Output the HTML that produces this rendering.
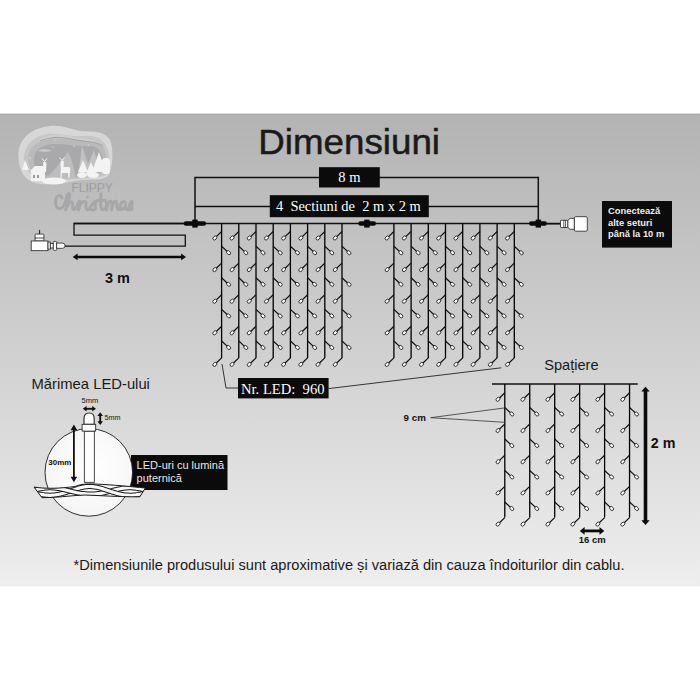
<!DOCTYPE html>
<html><head><meta charset="utf-8"><style>
html,body{margin:0;padding:0;background:#fff;width:700px;height:700px;overflow:hidden}
#band{position:absolute;left:0;top:114px;width:700px;height:472px;background:linear-gradient(to bottom,#b4b4b6 0%,#d0d0d1 50%,#ececec 100%)}
svg{position:absolute;left:0;top:0}
.led{fill:#fff;stroke:#111;stroke-width:0.8}
.sans{font-family:"Liberation Sans",sans-serif}
.serif{font-family:"Liberation Serif",serif}
</style></head><body>
<svg width="700" height="700" viewBox="0 0 700 700">
<defs><linearGradient id="bg" x1="0" y1="0" x2="0" y2="1"><stop offset="0" stop-color="#b3b3b4"/><stop offset="0.5" stop-color="#d0d0d0"/><stop offset="1" stop-color="#eeeeee"/></linearGradient></defs>
<rect x="0" y="113.5" width="700" height="473" fill="url(#bg)"/>
<rect x="0" y="114" width="700" height="1" fill="#aaaaab" opacity="0.7"/>

<g id="logo">
<path d="M18.5 158 C17 140 30 128 50 126 C62 125 70 129 80 131 C92 132 104 130 110 140 C114 150 113 168 108 176 C103 181 90 179 80 180 C65 183 48 186 35 183 C24 180 19 170 18.5 158Z" fill="#d7d7d8"/>
<path d="M24 160 C23 147 33 136 48 134 C60 133 70 137 82 136 C95 135 104 138 108 150 C111 162 109 171 105 176 C95 178 70 180 50 180 C35 180 25 172 24 160Z" fill="#c6c6c7"/>
<path d="M28 156 C30 146 38 140 52 139 C65 138 75 140 86 139 C96 139 104 143 106 155 C107 165 104 173 98 176 C80 178 60 179 45 178 C33 176 28 168 28 156Z" fill="#bababb"/>
<path d="M34 160 C34 150 42 144 55 144 C68 144 78 147 92 146 C100 148 104 156 103 165 C102 172 95 176 80 177 C62 178 46 177 38 172 C35 168 34 164 34 160Z" fill="#a9a9ab"/>
<path d="M40 139 C50 133 62 134 74 137 C86 140 95 137 103 146 C95 141 86 142 74 139.5 C62 137 52 136 40 141Z" fill="#cfcfd0"/><path d="M40 141 C52 136 62 137 74 139.5 C86 142 95 141 103 146" fill="none" stroke="#9d9d9f" stroke-width="0.9"/>
<path d="M38 151 C42 148 48 149 52 151 C48 152 42 152 38 151Z" fill="#c8c8c9"/>
<path d="M46 178 C55 170 62 160 68 152 C72 160 74 168 76 178Z" fill="#bdbdbe"/>
<path d="M82 146 L88 164 L94 150 L100 172 L78 176Z" fill="#c2c2c3"/>
<g fill="#f3f3f3">
<path d="M22 170 L25 160 L29 170Z"/>
<rect x="31" y="170" width="14" height="11"/>
<path d="M30 171 L35 166 H44 L46 171Z"/>
<path d="M43 163 Q44.5 160 46.5 163 L46 172 H43.5Z"/><path d="M42 158.5 L44.5 161.5 L47 158.5" fill="none" stroke="#f3f3f3" stroke-width="1"/>
<path d="M60.5 162 Q62 159.5 64 162 L63.5 167 H69 Q71 168 70 172 L69.5 178 H68.5 L68 173 H62 L61.5 178 H60.5 L60.8 170Z"/><path d="M59.5 157.5 L62 160.5 L64.5 157.5" fill="none" stroke="#f3f3f3" stroke-width="1"/>
<path d="M78 172 L83 160 L88 172Z"/>
<path d="M92 172 L99 152 L106 172Z"/>
<path d="M86 174 L91 162 L96 174Z"/>
<ellipse cx="54" cy="181" rx="12" ry="3.5"/>
<ellipse cx="82" cy="175" rx="5" ry="3"/>
<ellipse cx="93" cy="175" rx="6" ry="3"/>
<rect x="102" y="158" width="8" height="16" rx="3"/>
</g>
<g fill="#9a9a9c"><rect x="33" y="175" width="2" height="3"/><rect x="37" y="175" width="2" height="3"/></g>
<g fill="#e6e6e6"><circle cx="53" cy="147" r="0.6"/><circle cx="55" cy="140" r="0.6"/><circle cx="74" cy="146" r="0.7"/><circle cx="89" cy="145" r="0.6"/><circle cx="30" cy="158" r="0.7"/></g>
</g>
<text x="71.4" y="191.5" class="sans" font-size="12" fill="#858587" stroke="#bababb" stroke-width="0.45" paint-order="fill stroke" textLength="41.5" lengthAdjust="spacingAndGlyphs">FLIPPY</text>
<path d="M62 198 C60 194 56 195 55.5 201 C55 207 58 210 62 208 C64 206 66 200 67 196 C68 192.5 70.5 193 69.5 197 C68.5 201 66.5 206 65.5 210 C67 205 70 201 72 202 C73.5 203 72 207 73 209 C74 210.5 75.5 209 76.5 207 C77.5 204 78.5 201.5 79.5 201 C79.5 203 78.5 206 78.5 210 C79.5 205 81.5 201.5 84 201.5 M86 202 C86 205 85 208 87 209.5 C88.5 210.5 89.5 208.5 90.5 207 C92 205 93.5 202 95 201.5 C97.5 202 93.5 205 95.5 207.5 C96.5 209.5 93 210.5 91 209.5 M101 194 C101 200 100 206 101.5 209 C102.5 210.5 104 209.5 105.5 207.5 M97.5 200.5 H105 M106.5 202 C106.5 205 106.5 208 106.5 210 C107.5 205 108.5 201 110.5 201 C112.5 202 111.5 207 111.5 210 C112.5 205 113.5 201 115.5 201 C117.5 202 116.5 207 117.5 209 C118.5 210.5 119.5 209 120.5 207 M125.5 202.5 C122.5 200 120 204 120 207 C120 210.5 123 210.5 125.5 206 C125.5 204 125 208 126.5 209.5 C127.5 210.5 128.5 209 129 207.5 C129.5 205 130.5 202 131.5 201.5 C134 202 130 205 132 207.5 C133 209.5 130 210.5 128 209.5" fill="none" stroke="#a7a7a9" stroke-width="2.9" stroke-linecap="round" stroke-linejoin="round"/>
<circle cx="87.5" cy="197" r="1.2" fill="#a5a5a7"/>

<text x="258.3" y="153.6" class="sans" font-size="35" fill="#1a1a1a" stroke="#1a1a1a" stroke-width="0.5" textLength="181.7" lengthAdjust="spacingAndGlyphs">Dimensiuni</text>
<path d="M195 223.5V177.5H538.3V223.5 M195 206.5H538.3" stroke="#111" stroke-width="1.5" fill="none"/>
<path d="M74 223.5H560" stroke="#111" stroke-width="1.6" fill="none"/>
<path d="M195 223.5H74V235.2H185.3V246.2H65" stroke="#111" stroke-width="1.3" fill="none"/>
<path d="M76 256.9H183" stroke="#0a0a0a" stroke-width="2.5" fill="none"/><path d="M72.7 256.9L77.6 253.6V260.2Z M186 256.9L181.1 253.6V260.2Z" fill="#0a0a0a"/>
<text x="117.4" y="282.7" class="sans" font-size="14.5" font-weight="bold" fill="#111" text-anchor="middle">3 m</text>
<rect x="319" y="167.2" width="60.8" height="20.3" fill="#0b0b0b"/>
<text x="349.4" y="182" class="serif" font-size="14.5" fill="#fff" text-anchor="middle">8 m</text>
<rect x="269.8" y="195.2" width="159" height="22" fill="#0b0b0b"/>
<text x="276" y="211" class="serif" font-size="14.5" fill="#fff" textLength="144.7" lengthAdjust="spacingAndGlyphs" xml:space="preserve">4  Sectiuni de  2 m x 2 m</text>
<rect x="183.6" y="221.3" width="22.5" height="4.5" rx="2.25" fill="#0b0b0b"/><rect x="192.3" y="219.6" width="5.4" height="8" fill="#0b0b0b"/>
<rect x="358.3" y="221.3" width="17.7" height="4.5" rx="2.25" fill="#0b0b0b"/><rect x="364.2" y="219.6" width="5.4" height="8" fill="#0b0b0b"/>
<rect x="529" y="221.3" width="18" height="4.5" rx="2.25" fill="#0b0b0b"/><rect x="535.6" y="219.6" width="5.4" height="8" fill="#0b0b0b"/>
<g stroke="#222" stroke-width="0.8" fill="#fff">
<path d="M39.6 229.9V234.1" fill="none" stroke-width="1"/>
<rect x="35.1" y="234.1" width="8.8" height="6.9" rx="0.8"/>
<path d="M35.1 238H43.9" fill="none"/>
<rect x="31.2" y="241" width="16.8" height="9.7"/>
<rect x="48" y="242" width="2.3" height="7.1"/>
<rect x="50.3" y="243.5" width="3" height="4.5"/>
<rect x="53.3" y="241.4" width="3.4" height="9" rx="1"/>
<path d="M56.7 243.1H62.5Q65 243.1 65 245.7Q65 248.3 62.5 248.3H56.7Z"/>
</g>
<path d="M547 223.8H560.5" stroke="#111" stroke-width="1.3"/>
<g stroke="#222" stroke-width="0.8" fill="#fff">
<rect x="560.5" y="220.3" width="7.4" height="7.2" rx="0.6"/>
<path d="M563.8 220.3V227.5M565.5 220.3V227.5" fill="none" stroke-width="0.7"/>
<path d="M567.9 220.3 L570 218.4 H574.4 V229.3 H570 L567.9 227.5Z"/>
<rect x="574.4" y="216.7" width="12.9" height="14.5" rx="1.2"/>
</g>
<rect x="602" y="201" width="70" height="46.6" fill="#0b0b0b"/>
<text class="sans" font-size="9.4" font-weight="bold" fill="#eee"><tspan x="608" y="214">Conectează</tspan><tspan x="608" y="225.6">alte seturi</tspan><tspan x="608" y="237">până la 10 m</tspan></text>
<path d="M221.6 223.5V357.9M238.8 223.5V357.9M256 223.5V357.9M273.2 223.5V357.9M290.4 223.5V357.9M307.6 223.5V357.9M324.8 223.5V357.9M342 223.5V357.9" stroke="#000" stroke-width="1.3" fill="none"/>
<path d="M221.6 231.5L216.05 236.9M221.6 263.1L216.05 268.5M221.6 294.7L216.05 300.1M221.6 326.3L216.05 331.7M221.6 357.9L216.05 363.3M221.6 246.2L227.4 251.6M221.6 277.8L227.4 283.2M221.6 309.4L227.4 314.8M221.6 341L227.4 346.4M238.8 231.5L233.25 236.9M238.8 263.1L233.25 268.5M238.8 294.7L233.25 300.1M238.8 326.3L233.25 331.7M238.8 357.9L233.25 363.3M238.8 246.2L244.6 251.6M238.8 277.8L244.6 283.2M238.8 309.4L244.6 314.8M238.8 341L244.6 346.4M256 231.5L250.45 236.9M256 263.1L250.45 268.5M256 294.7L250.45 300.1M256 326.3L250.45 331.7M256 357.9L250.45 363.3M256 246.2L261.8 251.6M256 277.8L261.8 283.2M256 309.4L261.8 314.8M256 341L261.8 346.4M273.2 231.5L267.65 236.9M273.2 263.1L267.65 268.5M273.2 294.7L267.65 300.1M273.2 326.3L267.65 331.7M273.2 357.9L267.65 363.3M273.2 246.2L279 251.6M273.2 277.8L279 283.2M273.2 309.4L279 314.8M273.2 341L279 346.4M290.4 231.5L284.85 236.9M290.4 263.1L284.85 268.5M290.4 294.7L284.85 300.1M290.4 326.3L284.85 331.7M290.4 357.9L284.85 363.3M290.4 246.2L296.2 251.6M290.4 277.8L296.2 283.2M290.4 309.4L296.2 314.8M290.4 341L296.2 346.4M307.6 231.5L302.05 236.9M307.6 263.1L302.05 268.5M307.6 294.7L302.05 300.1M307.6 326.3L302.05 331.7M307.6 357.9L302.05 363.3M307.6 246.2L313.4 251.6M307.6 277.8L313.4 283.2M307.6 309.4L313.4 314.8M307.6 341L313.4 346.4M324.8 231.5L319.25 236.9M324.8 263.1L319.25 268.5M324.8 294.7L319.25 300.1M324.8 326.3L319.25 331.7M324.8 357.9L319.25 363.3M324.8 246.2L330.6 251.6M324.8 277.8L330.6 283.2M324.8 309.4L330.6 314.8M324.8 341L330.6 346.4M342 231.5L336.45 236.9M342 263.1L336.45 268.5M342 294.7L336.45 300.1M342 326.3L336.45 331.7M342 357.9L336.45 363.3M342 246.2L347.8 251.6M342 277.8L347.8 283.2M342 309.4L347.8 314.8M342 341L347.8 346.4" stroke="#111" stroke-width="1.2" fill="none"/>
<ellipse cx="214.85" cy="238" rx="2.25" ry="1.65" transform="rotate(-45 214.85 238)" class="led"/>
<ellipse cx="214.85" cy="269.6" rx="2.25" ry="1.65" transform="rotate(-45 214.85 269.6)" class="led"/>
<ellipse cx="214.85" cy="301.2" rx="2.25" ry="1.65" transform="rotate(-45 214.85 301.2)" class="led"/>
<ellipse cx="214.85" cy="332.8" rx="2.25" ry="1.65" transform="rotate(-45 214.85 332.8)" class="led"/>
<ellipse cx="214.85" cy="364.4" rx="2.25" ry="1.65" transform="rotate(-45 214.85 364.4)" class="led"/>
<ellipse cx="228.6" cy="252.7" rx="2.25" ry="1.65" transform="rotate(45 228.6 252.7)" class="led"/>
<ellipse cx="228.6" cy="284.3" rx="2.25" ry="1.65" transform="rotate(45 228.6 284.3)" class="led"/>
<ellipse cx="228.6" cy="315.9" rx="2.25" ry="1.65" transform="rotate(45 228.6 315.9)" class="led"/>
<ellipse cx="228.6" cy="347.5" rx="2.25" ry="1.65" transform="rotate(45 228.6 347.5)" class="led"/>
<ellipse cx="232.05" cy="238" rx="2.25" ry="1.65" transform="rotate(-45 232.05 238)" class="led"/>
<ellipse cx="232.05" cy="269.6" rx="2.25" ry="1.65" transform="rotate(-45 232.05 269.6)" class="led"/>
<ellipse cx="232.05" cy="301.2" rx="2.25" ry="1.65" transform="rotate(-45 232.05 301.2)" class="led"/>
<ellipse cx="232.05" cy="332.8" rx="2.25" ry="1.65" transform="rotate(-45 232.05 332.8)" class="led"/>
<ellipse cx="232.05" cy="364.4" rx="2.25" ry="1.65" transform="rotate(-45 232.05 364.4)" class="led"/>
<ellipse cx="245.8" cy="252.7" rx="2.25" ry="1.65" transform="rotate(45 245.8 252.7)" class="led"/>
<ellipse cx="245.8" cy="284.3" rx="2.25" ry="1.65" transform="rotate(45 245.8 284.3)" class="led"/>
<ellipse cx="245.8" cy="315.9" rx="2.25" ry="1.65" transform="rotate(45 245.8 315.9)" class="led"/>
<ellipse cx="245.8" cy="347.5" rx="2.25" ry="1.65" transform="rotate(45 245.8 347.5)" class="led"/>
<ellipse cx="249.25" cy="238" rx="2.25" ry="1.65" transform="rotate(-45 249.25 238)" class="led"/>
<ellipse cx="249.25" cy="269.6" rx="2.25" ry="1.65" transform="rotate(-45 249.25 269.6)" class="led"/>
<ellipse cx="249.25" cy="301.2" rx="2.25" ry="1.65" transform="rotate(-45 249.25 301.2)" class="led"/>
<ellipse cx="249.25" cy="332.8" rx="2.25" ry="1.65" transform="rotate(-45 249.25 332.8)" class="led"/>
<ellipse cx="249.25" cy="364.4" rx="2.25" ry="1.65" transform="rotate(-45 249.25 364.4)" class="led"/>
<ellipse cx="263" cy="252.7" rx="2.25" ry="1.65" transform="rotate(45 263 252.7)" class="led"/>
<ellipse cx="263" cy="284.3" rx="2.25" ry="1.65" transform="rotate(45 263 284.3)" class="led"/>
<ellipse cx="263" cy="315.9" rx="2.25" ry="1.65" transform="rotate(45 263 315.9)" class="led"/>
<ellipse cx="263" cy="347.5" rx="2.25" ry="1.65" transform="rotate(45 263 347.5)" class="led"/>
<ellipse cx="266.45" cy="238" rx="2.25" ry="1.65" transform="rotate(-45 266.45 238)" class="led"/>
<ellipse cx="266.45" cy="269.6" rx="2.25" ry="1.65" transform="rotate(-45 266.45 269.6)" class="led"/>
<ellipse cx="266.45" cy="301.2" rx="2.25" ry="1.65" transform="rotate(-45 266.45 301.2)" class="led"/>
<ellipse cx="266.45" cy="332.8" rx="2.25" ry="1.65" transform="rotate(-45 266.45 332.8)" class="led"/>
<ellipse cx="266.45" cy="364.4" rx="2.25" ry="1.65" transform="rotate(-45 266.45 364.4)" class="led"/>
<ellipse cx="280.2" cy="252.7" rx="2.25" ry="1.65" transform="rotate(45 280.2 252.7)" class="led"/>
<ellipse cx="280.2" cy="284.3" rx="2.25" ry="1.65" transform="rotate(45 280.2 284.3)" class="led"/>
<ellipse cx="280.2" cy="315.9" rx="2.25" ry="1.65" transform="rotate(45 280.2 315.9)" class="led"/>
<ellipse cx="280.2" cy="347.5" rx="2.25" ry="1.65" transform="rotate(45 280.2 347.5)" class="led"/>
<ellipse cx="283.65" cy="238" rx="2.25" ry="1.65" transform="rotate(-45 283.65 238)" class="led"/>
<ellipse cx="283.65" cy="269.6" rx="2.25" ry="1.65" transform="rotate(-45 283.65 269.6)" class="led"/>
<ellipse cx="283.65" cy="301.2" rx="2.25" ry="1.65" transform="rotate(-45 283.65 301.2)" class="led"/>
<ellipse cx="283.65" cy="332.8" rx="2.25" ry="1.65" transform="rotate(-45 283.65 332.8)" class="led"/>
<ellipse cx="283.65" cy="364.4" rx="2.25" ry="1.65" transform="rotate(-45 283.65 364.4)" class="led"/>
<ellipse cx="297.4" cy="252.7" rx="2.25" ry="1.65" transform="rotate(45 297.4 252.7)" class="led"/>
<ellipse cx="297.4" cy="284.3" rx="2.25" ry="1.65" transform="rotate(45 297.4 284.3)" class="led"/>
<ellipse cx="297.4" cy="315.9" rx="2.25" ry="1.65" transform="rotate(45 297.4 315.9)" class="led"/>
<ellipse cx="297.4" cy="347.5" rx="2.25" ry="1.65" transform="rotate(45 297.4 347.5)" class="led"/>
<ellipse cx="300.85" cy="238" rx="2.25" ry="1.65" transform="rotate(-45 300.85 238)" class="led"/>
<ellipse cx="300.85" cy="269.6" rx="2.25" ry="1.65" transform="rotate(-45 300.85 269.6)" class="led"/>
<ellipse cx="300.85" cy="301.2" rx="2.25" ry="1.65" transform="rotate(-45 300.85 301.2)" class="led"/>
<ellipse cx="300.85" cy="332.8" rx="2.25" ry="1.65" transform="rotate(-45 300.85 332.8)" class="led"/>
<ellipse cx="300.85" cy="364.4" rx="2.25" ry="1.65" transform="rotate(-45 300.85 364.4)" class="led"/>
<ellipse cx="314.6" cy="252.7" rx="2.25" ry="1.65" transform="rotate(45 314.6 252.7)" class="led"/>
<ellipse cx="314.6" cy="284.3" rx="2.25" ry="1.65" transform="rotate(45 314.6 284.3)" class="led"/>
<ellipse cx="314.6" cy="315.9" rx="2.25" ry="1.65" transform="rotate(45 314.6 315.9)" class="led"/>
<ellipse cx="314.6" cy="347.5" rx="2.25" ry="1.65" transform="rotate(45 314.6 347.5)" class="led"/>
<ellipse cx="318.05" cy="238" rx="2.25" ry="1.65" transform="rotate(-45 318.05 238)" class="led"/>
<ellipse cx="318.05" cy="269.6" rx="2.25" ry="1.65" transform="rotate(-45 318.05 269.6)" class="led"/>
<ellipse cx="318.05" cy="301.2" rx="2.25" ry="1.65" transform="rotate(-45 318.05 301.2)" class="led"/>
<ellipse cx="318.05" cy="332.8" rx="2.25" ry="1.65" transform="rotate(-45 318.05 332.8)" class="led"/>
<ellipse cx="318.05" cy="364.4" rx="2.25" ry="1.65" transform="rotate(-45 318.05 364.4)" class="led"/>
<ellipse cx="331.8" cy="252.7" rx="2.25" ry="1.65" transform="rotate(45 331.8 252.7)" class="led"/>
<ellipse cx="331.8" cy="284.3" rx="2.25" ry="1.65" transform="rotate(45 331.8 284.3)" class="led"/>
<ellipse cx="331.8" cy="315.9" rx="2.25" ry="1.65" transform="rotate(45 331.8 315.9)" class="led"/>
<ellipse cx="331.8" cy="347.5" rx="2.25" ry="1.65" transform="rotate(45 331.8 347.5)" class="led"/>
<ellipse cx="335.25" cy="238" rx="2.25" ry="1.65" transform="rotate(-45 335.25 238)" class="led"/>
<ellipse cx="335.25" cy="269.6" rx="2.25" ry="1.65" transform="rotate(-45 335.25 269.6)" class="led"/>
<ellipse cx="335.25" cy="301.2" rx="2.25" ry="1.65" transform="rotate(-45 335.25 301.2)" class="led"/>
<ellipse cx="335.25" cy="332.8" rx="2.25" ry="1.65" transform="rotate(-45 335.25 332.8)" class="led"/>
<ellipse cx="335.25" cy="364.4" rx="2.25" ry="1.65" transform="rotate(-45 335.25 364.4)" class="led"/>
<ellipse cx="349" cy="252.7" rx="2.25" ry="1.65" transform="rotate(45 349 252.7)" class="led"/>
<ellipse cx="349" cy="284.3" rx="2.25" ry="1.65" transform="rotate(45 349 284.3)" class="led"/>
<ellipse cx="349" cy="315.9" rx="2.25" ry="1.65" transform="rotate(45 349 315.9)" class="led"/>
<ellipse cx="349" cy="347.5" rx="2.25" ry="1.65" transform="rotate(45 349 347.5)" class="led"/>
<path d="M393.9 223.5V357.9M411.1 223.5V357.9M428.3 223.5V357.9M445.5 223.5V357.9M462.7 223.5V357.9M479.9 223.5V357.9M497.1 223.5V357.9M514.3 223.5V357.9" stroke="#000" stroke-width="1.3" fill="none"/>
<path d="M393.9 231.5L388.35 236.9M393.9 263.1L388.35 268.5M393.9 294.7L388.35 300.1M393.9 326.3L388.35 331.7M393.9 357.9L388.35 363.3M393.9 246.2L399.7 251.6M393.9 277.8L399.7 283.2M393.9 309.4L399.7 314.8M393.9 341L399.7 346.4M411.1 231.5L405.55 236.9M411.1 263.1L405.55 268.5M411.1 294.7L405.55 300.1M411.1 326.3L405.55 331.7M411.1 357.9L405.55 363.3M411.1 246.2L416.9 251.6M411.1 277.8L416.9 283.2M411.1 309.4L416.9 314.8M411.1 341L416.9 346.4M428.3 231.5L422.75 236.9M428.3 263.1L422.75 268.5M428.3 294.7L422.75 300.1M428.3 326.3L422.75 331.7M428.3 357.9L422.75 363.3M428.3 246.2L434.1 251.6M428.3 277.8L434.1 283.2M428.3 309.4L434.1 314.8M428.3 341L434.1 346.4M445.5 231.5L439.95 236.9M445.5 263.1L439.95 268.5M445.5 294.7L439.95 300.1M445.5 326.3L439.95 331.7M445.5 357.9L439.95 363.3M445.5 246.2L451.3 251.6M445.5 277.8L451.3 283.2M445.5 309.4L451.3 314.8M445.5 341L451.3 346.4M462.7 231.5L457.15 236.9M462.7 263.1L457.15 268.5M462.7 294.7L457.15 300.1M462.7 326.3L457.15 331.7M462.7 357.9L457.15 363.3M462.7 246.2L468.5 251.6M462.7 277.8L468.5 283.2M462.7 309.4L468.5 314.8M462.7 341L468.5 346.4M479.9 231.5L474.35 236.9M479.9 263.1L474.35 268.5M479.9 294.7L474.35 300.1M479.9 326.3L474.35 331.7M479.9 357.9L474.35 363.3M479.9 246.2L485.7 251.6M479.9 277.8L485.7 283.2M479.9 309.4L485.7 314.8M479.9 341L485.7 346.4M497.1 231.5L491.55 236.9M497.1 263.1L491.55 268.5M497.1 294.7L491.55 300.1M497.1 326.3L491.55 331.7M497.1 357.9L491.55 363.3M497.1 246.2L502.9 251.6M497.1 277.8L502.9 283.2M497.1 309.4L502.9 314.8M497.1 341L502.9 346.4M514.3 231.5L508.75 236.9M514.3 263.1L508.75 268.5M514.3 294.7L508.75 300.1M514.3 326.3L508.75 331.7M514.3 357.9L508.75 363.3M514.3 246.2L520.1 251.6M514.3 277.8L520.1 283.2M514.3 309.4L520.1 314.8M514.3 341L520.1 346.4" stroke="#111" stroke-width="1.2" fill="none"/>
<ellipse cx="387.15" cy="238" rx="2.25" ry="1.65" transform="rotate(-45 387.15 238)" class="led"/>
<ellipse cx="387.15" cy="269.6" rx="2.25" ry="1.65" transform="rotate(-45 387.15 269.6)" class="led"/>
<ellipse cx="387.15" cy="301.2" rx="2.25" ry="1.65" transform="rotate(-45 387.15 301.2)" class="led"/>
<ellipse cx="387.15" cy="332.8" rx="2.25" ry="1.65" transform="rotate(-45 387.15 332.8)" class="led"/>
<ellipse cx="387.15" cy="364.4" rx="2.25" ry="1.65" transform="rotate(-45 387.15 364.4)" class="led"/>
<ellipse cx="400.9" cy="252.7" rx="2.25" ry="1.65" transform="rotate(45 400.9 252.7)" class="led"/>
<ellipse cx="400.9" cy="284.3" rx="2.25" ry="1.65" transform="rotate(45 400.9 284.3)" class="led"/>
<ellipse cx="400.9" cy="315.9" rx="2.25" ry="1.65" transform="rotate(45 400.9 315.9)" class="led"/>
<ellipse cx="400.9" cy="347.5" rx="2.25" ry="1.65" transform="rotate(45 400.9 347.5)" class="led"/>
<ellipse cx="404.35" cy="238" rx="2.25" ry="1.65" transform="rotate(-45 404.35 238)" class="led"/>
<ellipse cx="404.35" cy="269.6" rx="2.25" ry="1.65" transform="rotate(-45 404.35 269.6)" class="led"/>
<ellipse cx="404.35" cy="301.2" rx="2.25" ry="1.65" transform="rotate(-45 404.35 301.2)" class="led"/>
<ellipse cx="404.35" cy="332.8" rx="2.25" ry="1.65" transform="rotate(-45 404.35 332.8)" class="led"/>
<ellipse cx="404.35" cy="364.4" rx="2.25" ry="1.65" transform="rotate(-45 404.35 364.4)" class="led"/>
<ellipse cx="418.1" cy="252.7" rx="2.25" ry="1.65" transform="rotate(45 418.1 252.7)" class="led"/>
<ellipse cx="418.1" cy="284.3" rx="2.25" ry="1.65" transform="rotate(45 418.1 284.3)" class="led"/>
<ellipse cx="418.1" cy="315.9" rx="2.25" ry="1.65" transform="rotate(45 418.1 315.9)" class="led"/>
<ellipse cx="418.1" cy="347.5" rx="2.25" ry="1.65" transform="rotate(45 418.1 347.5)" class="led"/>
<ellipse cx="421.55" cy="238" rx="2.25" ry="1.65" transform="rotate(-45 421.55 238)" class="led"/>
<ellipse cx="421.55" cy="269.6" rx="2.25" ry="1.65" transform="rotate(-45 421.55 269.6)" class="led"/>
<ellipse cx="421.55" cy="301.2" rx="2.25" ry="1.65" transform="rotate(-45 421.55 301.2)" class="led"/>
<ellipse cx="421.55" cy="332.8" rx="2.25" ry="1.65" transform="rotate(-45 421.55 332.8)" class="led"/>
<ellipse cx="421.55" cy="364.4" rx="2.25" ry="1.65" transform="rotate(-45 421.55 364.4)" class="led"/>
<ellipse cx="435.3" cy="252.7" rx="2.25" ry="1.65" transform="rotate(45 435.3 252.7)" class="led"/>
<ellipse cx="435.3" cy="284.3" rx="2.25" ry="1.65" transform="rotate(45 435.3 284.3)" class="led"/>
<ellipse cx="435.3" cy="315.9" rx="2.25" ry="1.65" transform="rotate(45 435.3 315.9)" class="led"/>
<ellipse cx="435.3" cy="347.5" rx="2.25" ry="1.65" transform="rotate(45 435.3 347.5)" class="led"/>
<ellipse cx="438.75" cy="238" rx="2.25" ry="1.65" transform="rotate(-45 438.75 238)" class="led"/>
<ellipse cx="438.75" cy="269.6" rx="2.25" ry="1.65" transform="rotate(-45 438.75 269.6)" class="led"/>
<ellipse cx="438.75" cy="301.2" rx="2.25" ry="1.65" transform="rotate(-45 438.75 301.2)" class="led"/>
<ellipse cx="438.75" cy="332.8" rx="2.25" ry="1.65" transform="rotate(-45 438.75 332.8)" class="led"/>
<ellipse cx="438.75" cy="364.4" rx="2.25" ry="1.65" transform="rotate(-45 438.75 364.4)" class="led"/>
<ellipse cx="452.5" cy="252.7" rx="2.25" ry="1.65" transform="rotate(45 452.5 252.7)" class="led"/>
<ellipse cx="452.5" cy="284.3" rx="2.25" ry="1.65" transform="rotate(45 452.5 284.3)" class="led"/>
<ellipse cx="452.5" cy="315.9" rx="2.25" ry="1.65" transform="rotate(45 452.5 315.9)" class="led"/>
<ellipse cx="452.5" cy="347.5" rx="2.25" ry="1.65" transform="rotate(45 452.5 347.5)" class="led"/>
<ellipse cx="455.95" cy="238" rx="2.25" ry="1.65" transform="rotate(-45 455.95 238)" class="led"/>
<ellipse cx="455.95" cy="269.6" rx="2.25" ry="1.65" transform="rotate(-45 455.95 269.6)" class="led"/>
<ellipse cx="455.95" cy="301.2" rx="2.25" ry="1.65" transform="rotate(-45 455.95 301.2)" class="led"/>
<ellipse cx="455.95" cy="332.8" rx="2.25" ry="1.65" transform="rotate(-45 455.95 332.8)" class="led"/>
<ellipse cx="455.95" cy="364.4" rx="2.25" ry="1.65" transform="rotate(-45 455.95 364.4)" class="led"/>
<ellipse cx="469.7" cy="252.7" rx="2.25" ry="1.65" transform="rotate(45 469.7 252.7)" class="led"/>
<ellipse cx="469.7" cy="284.3" rx="2.25" ry="1.65" transform="rotate(45 469.7 284.3)" class="led"/>
<ellipse cx="469.7" cy="315.9" rx="2.25" ry="1.65" transform="rotate(45 469.7 315.9)" class="led"/>
<ellipse cx="469.7" cy="347.5" rx="2.25" ry="1.65" transform="rotate(45 469.7 347.5)" class="led"/>
<ellipse cx="473.15" cy="238" rx="2.25" ry="1.65" transform="rotate(-45 473.15 238)" class="led"/>
<ellipse cx="473.15" cy="269.6" rx="2.25" ry="1.65" transform="rotate(-45 473.15 269.6)" class="led"/>
<ellipse cx="473.15" cy="301.2" rx="2.25" ry="1.65" transform="rotate(-45 473.15 301.2)" class="led"/>
<ellipse cx="473.15" cy="332.8" rx="2.25" ry="1.65" transform="rotate(-45 473.15 332.8)" class="led"/>
<ellipse cx="473.15" cy="364.4" rx="2.25" ry="1.65" transform="rotate(-45 473.15 364.4)" class="led"/>
<ellipse cx="486.9" cy="252.7" rx="2.25" ry="1.65" transform="rotate(45 486.9 252.7)" class="led"/>
<ellipse cx="486.9" cy="284.3" rx="2.25" ry="1.65" transform="rotate(45 486.9 284.3)" class="led"/>
<ellipse cx="486.9" cy="315.9" rx="2.25" ry="1.65" transform="rotate(45 486.9 315.9)" class="led"/>
<ellipse cx="486.9" cy="347.5" rx="2.25" ry="1.65" transform="rotate(45 486.9 347.5)" class="led"/>
<ellipse cx="490.35" cy="238" rx="2.25" ry="1.65" transform="rotate(-45 490.35 238)" class="led"/>
<ellipse cx="490.35" cy="269.6" rx="2.25" ry="1.65" transform="rotate(-45 490.35 269.6)" class="led"/>
<ellipse cx="490.35" cy="301.2" rx="2.25" ry="1.65" transform="rotate(-45 490.35 301.2)" class="led"/>
<ellipse cx="490.35" cy="332.8" rx="2.25" ry="1.65" transform="rotate(-45 490.35 332.8)" class="led"/>
<ellipse cx="490.35" cy="364.4" rx="2.25" ry="1.65" transform="rotate(-45 490.35 364.4)" class="led"/>
<ellipse cx="504.1" cy="252.7" rx="2.25" ry="1.65" transform="rotate(45 504.1 252.7)" class="led"/>
<ellipse cx="504.1" cy="284.3" rx="2.25" ry="1.65" transform="rotate(45 504.1 284.3)" class="led"/>
<ellipse cx="504.1" cy="315.9" rx="2.25" ry="1.65" transform="rotate(45 504.1 315.9)" class="led"/>
<ellipse cx="504.1" cy="347.5" rx="2.25" ry="1.65" transform="rotate(45 504.1 347.5)" class="led"/>
<ellipse cx="507.55" cy="238" rx="2.25" ry="1.65" transform="rotate(-45 507.55 238)" class="led"/>
<ellipse cx="507.55" cy="269.6" rx="2.25" ry="1.65" transform="rotate(-45 507.55 269.6)" class="led"/>
<ellipse cx="507.55" cy="301.2" rx="2.25" ry="1.65" transform="rotate(-45 507.55 301.2)" class="led"/>
<ellipse cx="507.55" cy="332.8" rx="2.25" ry="1.65" transform="rotate(-45 507.55 332.8)" class="led"/>
<ellipse cx="507.55" cy="364.4" rx="2.25" ry="1.65" transform="rotate(-45 507.55 364.4)" class="led"/>
<ellipse cx="521.3" cy="252.7" rx="2.25" ry="1.65" transform="rotate(45 521.3 252.7)" class="led"/>
<ellipse cx="521.3" cy="284.3" rx="2.25" ry="1.65" transform="rotate(45 521.3 284.3)" class="led"/>
<ellipse cx="521.3" cy="315.9" rx="2.25" ry="1.65" transform="rotate(45 521.3 315.9)" class="led"/>
<ellipse cx="521.3" cy="347.5" rx="2.25" ry="1.65" transform="rotate(45 521.3 347.5)" class="led"/>
<path d="M222 364L226 388H238 M328.6 388.6L501.3 367.8" stroke="#222" stroke-width="0.9" fill="none"/>
<rect x="238" y="378" width="90.6" height="20.4" fill="#0b0b0b"/>
<text x="241" y="393.6" class="serif" font-size="14.8" fill="#fff" textLength="83.5" lengthAdjust="spacingAndGlyphs" xml:space="preserve">Nr. LED:  960</text>
<text x="544.2" y="370" class="sans" font-size="14.6" fill="#1a1a1a">Spațiere</text>
<path d="M492 384H637.7" stroke="#111" stroke-width="1.5"/>
<path d="M504.8 384V517.6M529.75 384V517.6M554.7 384V517.6M579.65 384V517.6M604.6 384V517.6M629.55 384V517.6" stroke="#000" stroke-width="1.3" fill="none"/>
<path d="M504.8 392.8L499.25 398.2M504.8 424L499.25 429.4M504.8 455.2L499.25 460.6M504.8 486.4L499.25 491.8M504.8 517.6L499.25 523M504.8 407.5L510.6 412.9M504.8 439L510.6 444.4M504.8 470.5L510.6 475.9M504.8 502L510.6 507.4M529.75 392.8L524.2 398.2M529.75 424L524.2 429.4M529.75 455.2L524.2 460.6M529.75 486.4L524.2 491.8M529.75 517.6L524.2 523M529.75 407.5L535.55 412.9M529.75 439L535.55 444.4M529.75 470.5L535.55 475.9M529.75 502L535.55 507.4M554.7 392.8L549.15 398.2M554.7 424L549.15 429.4M554.7 455.2L549.15 460.6M554.7 486.4L549.15 491.8M554.7 517.6L549.15 523M554.7 407.5L560.5 412.9M554.7 439L560.5 444.4M554.7 470.5L560.5 475.9M554.7 502L560.5 507.4M579.65 392.8L574.1 398.2M579.65 424L574.1 429.4M579.65 455.2L574.1 460.6M579.65 486.4L574.1 491.8M579.65 517.6L574.1 523M579.65 407.5L585.45 412.9M579.65 439L585.45 444.4M579.65 470.5L585.45 475.9M579.65 502L585.45 507.4M604.6 392.8L599.05 398.2M604.6 424L599.05 429.4M604.6 455.2L599.05 460.6M604.6 486.4L599.05 491.8M604.6 517.6L599.05 523M604.6 407.5L610.4 412.9M604.6 439L610.4 444.4M604.6 470.5L610.4 475.9M604.6 502L610.4 507.4M629.55 392.8L624 398.2M629.55 424L624 429.4M629.55 455.2L624 460.6M629.55 486.4L624 491.8M629.55 517.6L624 523M629.55 407.5L635.35 412.9M629.55 439L635.35 444.4M629.55 470.5L635.35 475.9M629.55 502L635.35 507.4" stroke="#111" stroke-width="1.2" fill="none"/>
<ellipse cx="498.05" cy="399.3" rx="2.25" ry="1.65" transform="rotate(-45 498.05 399.3)" class="led"/>
<ellipse cx="498.05" cy="430.5" rx="2.25" ry="1.65" transform="rotate(-45 498.05 430.5)" class="led"/>
<ellipse cx="498.05" cy="461.7" rx="2.25" ry="1.65" transform="rotate(-45 498.05 461.7)" class="led"/>
<ellipse cx="498.05" cy="492.9" rx="2.25" ry="1.65" transform="rotate(-45 498.05 492.9)" class="led"/>
<ellipse cx="498.05" cy="524.1" rx="2.25" ry="1.65" transform="rotate(-45 498.05 524.1)" class="led"/>
<ellipse cx="511.8" cy="414" rx="2.25" ry="1.65" transform="rotate(45 511.8 414)" class="led"/>
<ellipse cx="511.8" cy="445.5" rx="2.25" ry="1.65" transform="rotate(45 511.8 445.5)" class="led"/>
<ellipse cx="511.8" cy="477" rx="2.25" ry="1.65" transform="rotate(45 511.8 477)" class="led"/>
<ellipse cx="511.8" cy="508.5" rx="2.25" ry="1.65" transform="rotate(45 511.8 508.5)" class="led"/>
<ellipse cx="523" cy="399.3" rx="2.25" ry="1.65" transform="rotate(-45 523 399.3)" class="led"/>
<ellipse cx="523" cy="430.5" rx="2.25" ry="1.65" transform="rotate(-45 523 430.5)" class="led"/>
<ellipse cx="523" cy="461.7" rx="2.25" ry="1.65" transform="rotate(-45 523 461.7)" class="led"/>
<ellipse cx="523" cy="492.9" rx="2.25" ry="1.65" transform="rotate(-45 523 492.9)" class="led"/>
<ellipse cx="523" cy="524.1" rx="2.25" ry="1.65" transform="rotate(-45 523 524.1)" class="led"/>
<ellipse cx="536.75" cy="414" rx="2.25" ry="1.65" transform="rotate(45 536.75 414)" class="led"/>
<ellipse cx="536.75" cy="445.5" rx="2.25" ry="1.65" transform="rotate(45 536.75 445.5)" class="led"/>
<ellipse cx="536.75" cy="477" rx="2.25" ry="1.65" transform="rotate(45 536.75 477)" class="led"/>
<ellipse cx="536.75" cy="508.5" rx="2.25" ry="1.65" transform="rotate(45 536.75 508.5)" class="led"/>
<ellipse cx="547.95" cy="399.3" rx="2.25" ry="1.65" transform="rotate(-45 547.95 399.3)" class="led"/>
<ellipse cx="547.95" cy="430.5" rx="2.25" ry="1.65" transform="rotate(-45 547.95 430.5)" class="led"/>
<ellipse cx="547.95" cy="461.7" rx="2.25" ry="1.65" transform="rotate(-45 547.95 461.7)" class="led"/>
<ellipse cx="547.95" cy="492.9" rx="2.25" ry="1.65" transform="rotate(-45 547.95 492.9)" class="led"/>
<ellipse cx="547.95" cy="524.1" rx="2.25" ry="1.65" transform="rotate(-45 547.95 524.1)" class="led"/>
<ellipse cx="561.7" cy="414" rx="2.25" ry="1.65" transform="rotate(45 561.7 414)" class="led"/>
<ellipse cx="561.7" cy="445.5" rx="2.25" ry="1.65" transform="rotate(45 561.7 445.5)" class="led"/>
<ellipse cx="561.7" cy="477" rx="2.25" ry="1.65" transform="rotate(45 561.7 477)" class="led"/>
<ellipse cx="561.7" cy="508.5" rx="2.25" ry="1.65" transform="rotate(45 561.7 508.5)" class="led"/>
<ellipse cx="572.9" cy="399.3" rx="2.25" ry="1.65" transform="rotate(-45 572.9 399.3)" class="led"/>
<ellipse cx="572.9" cy="430.5" rx="2.25" ry="1.65" transform="rotate(-45 572.9 430.5)" class="led"/>
<ellipse cx="572.9" cy="461.7" rx="2.25" ry="1.65" transform="rotate(-45 572.9 461.7)" class="led"/>
<ellipse cx="572.9" cy="492.9" rx="2.25" ry="1.65" transform="rotate(-45 572.9 492.9)" class="led"/>
<ellipse cx="572.9" cy="524.1" rx="2.25" ry="1.65" transform="rotate(-45 572.9 524.1)" class="led"/>
<ellipse cx="586.65" cy="414" rx="2.25" ry="1.65" transform="rotate(45 586.65 414)" class="led"/>
<ellipse cx="586.65" cy="445.5" rx="2.25" ry="1.65" transform="rotate(45 586.65 445.5)" class="led"/>
<ellipse cx="586.65" cy="477" rx="2.25" ry="1.65" transform="rotate(45 586.65 477)" class="led"/>
<ellipse cx="586.65" cy="508.5" rx="2.25" ry="1.65" transform="rotate(45 586.65 508.5)" class="led"/>
<ellipse cx="597.85" cy="399.3" rx="2.25" ry="1.65" transform="rotate(-45 597.85 399.3)" class="led"/>
<ellipse cx="597.85" cy="430.5" rx="2.25" ry="1.65" transform="rotate(-45 597.85 430.5)" class="led"/>
<ellipse cx="597.85" cy="461.7" rx="2.25" ry="1.65" transform="rotate(-45 597.85 461.7)" class="led"/>
<ellipse cx="597.85" cy="492.9" rx="2.25" ry="1.65" transform="rotate(-45 597.85 492.9)" class="led"/>
<ellipse cx="597.85" cy="524.1" rx="2.25" ry="1.65" transform="rotate(-45 597.85 524.1)" class="led"/>
<ellipse cx="611.6" cy="414" rx="2.25" ry="1.65" transform="rotate(45 611.6 414)" class="led"/>
<ellipse cx="611.6" cy="445.5" rx="2.25" ry="1.65" transform="rotate(45 611.6 445.5)" class="led"/>
<ellipse cx="611.6" cy="477" rx="2.25" ry="1.65" transform="rotate(45 611.6 477)" class="led"/>
<ellipse cx="611.6" cy="508.5" rx="2.25" ry="1.65" transform="rotate(45 611.6 508.5)" class="led"/>
<ellipse cx="622.8" cy="399.3" rx="2.25" ry="1.65" transform="rotate(-45 622.8 399.3)" class="led"/>
<ellipse cx="622.8" cy="430.5" rx="2.25" ry="1.65" transform="rotate(-45 622.8 430.5)" class="led"/>
<ellipse cx="622.8" cy="461.7" rx="2.25" ry="1.65" transform="rotate(-45 622.8 461.7)" class="led"/>
<ellipse cx="622.8" cy="492.9" rx="2.25" ry="1.65" transform="rotate(-45 622.8 492.9)" class="led"/>
<ellipse cx="622.8" cy="524.1" rx="2.25" ry="1.65" transform="rotate(-45 622.8 524.1)" class="led"/>
<ellipse cx="636.55" cy="414" rx="2.25" ry="1.65" transform="rotate(45 636.55 414)" class="led"/>
<ellipse cx="636.55" cy="445.5" rx="2.25" ry="1.65" transform="rotate(45 636.55 445.5)" class="led"/>
<ellipse cx="636.55" cy="477" rx="2.25" ry="1.65" transform="rotate(45 636.55 477)" class="led"/>
<ellipse cx="636.55" cy="508.5" rx="2.25" ry="1.65" transform="rotate(45 636.55 508.5)" class="led"/>
<path d="M430.7 417.7L504.8 407.9 M430.7 417.7L504.8 422.3" stroke="#333" stroke-width="0.8" fill="none"/>
<text x="403.6" y="421.4" class="sans" font-size="9.8" font-weight="bold" fill="#111">9 cm</text>
<path d="M645.5 390V521" stroke="#0a0a0a" stroke-width="3.6"/><path d="M645.5 386.8L641.3 391.5H649.7Z M645.5 524.9L641.3 520.2H649.7Z" fill="#0a0a0a"/>
<text x="650.8" y="447.8" class="sans" font-size="14.8" font-weight="bold" fill="#111" textLength="24.6" lengthAdjust="spacingAndGlyphs">2 m</text>
<path d="M583 530.9H601" stroke="#0a0a0a" stroke-width="2.8"/><path d="M579.8 530.9L584.6 527V534.8Z M604.3 530.9L599.5 527V534.8Z" fill="#0a0a0a"/>
<text x="592.2" y="543" class="sans" font-size="9.5" font-weight="bold" fill="#111" text-anchor="middle">16 cm</text>
<text x="31.5" y="389.3" class="sans" font-size="14.8" fill="#1a1a1a">Mărimea LED-ului</text>
<rect x="131" y="455" width="96.5" height="35" fill="#0b0b0b"/>
<text class="sans" font-size="11" fill="#e8e8e8"><tspan x="136.6" y="468.5">LED-uri cu lumină</tspan><tspan x="136.6" y="482.4">puternică</tspan></text>
<defs><radialGradient id="cg" cx="0.55" cy="0.45" r="0.6"><stop offset="0" stop-color="#ffffff"/><stop offset="1" stop-color="#f5f5f5"/></radialGradient></defs>
<circle cx="88.8" cy="472.4" r="43.8" fill="url(#cg)" stroke="#1a1a1a" stroke-width="0.9"/>
<defs><clipPath id="rc"><path d="M34 487 C45 489 60 488.5 75 486.5 C80 484.5 85 483.5 95 484 C115 485 130 486.5 145.4 488 L139.8 496.8 C120 497 100 495.5 85 495 C70 495.5 55 498 42 497.7 Z"/></clipPath></defs>
<path d="M34 487 C45 489 60 488.5 75 486.5 C80 484.5 85 483.5 95 484 C115 485 130 486.5 145.4 488 L139.8 496.8 C120 497 100 495.5 85 495 C70 495.5 55 498 42 497.7 Z" fill="#f8f8f8"/>
<g clip-path="url(#rc)" fill="none" stroke-linecap="butt"><path d="M51.0 495.3L52.0 495.2L53.0 495.2L54.0 495.1L55.0 495.0L56.0 494.8L57.0 494.7L58.0 494.5L59.0 494.3L60.0 494.1L61.0 493.8L62.0 493.6L63.0 493.3L64.0 493.0L65.0 492.7L66.0 492.4L67.0 492.1L68.0 491.7L69.0 491.4L70.0 491.1L71.0 490.7L72.0 490.4L73.0 490.0L74.0 489.7L75.0 489.3L76.0 489.0L77.0 488.7L78.0 488.4L79.0 488.1L80.0 487.8L81.0 487.6L82.0 487.4L83.0 487.1L84.0 487.0L85.0 486.8L86.0 486.7L87.0 486.6L88.0 486.5L89.0 486.5L90.0 486.5L91.0 486.5M131.0 495.3L132.0 495.3L133.0 495.2L134.0 495.1L135.0 495.0L136.0 494.9L137.0 494.7L138.0 494.6L139.0 494.4L140.0 494.2L141.0 494.0L142.0 493.7L143.0 493.5L144.0 493.2L145.0 493.0L146.0 492.7L147.0 492.4L148.0 492.1L149.0 491.8L150.0 491.5M30.0 491.5L31.0 491.2L32.0 490.9L33.0 490.6L34.0 490.3L35.0 490.0L36.0 489.8L37.0 489.5L38.0 489.3L39.0 489.0L40.0 488.8L41.0 488.6L42.0 488.4L43.0 488.3L44.0 488.1L45.0 488.0L46.0 487.9L47.0 487.8L48.0 487.7L49.0 487.7L50.0 487.7L51.0 487.7M91.0 494.1L92.0 494.1L93.0 494.1L94.0 494.0L95.0 494.0L96.0 493.9L97.0 493.8L98.0 493.7L99.0 493.6L100.0 493.4L101.0 493.3L102.0 493.1L103.0 492.9L104.0 492.7L105.0 492.5L106.0 492.2L107.0 492.0L108.0 491.7L109.0 491.5L110.0 491.2L111.0 491.0L112.0 490.7L113.0 490.4L114.0 490.2L115.0 489.9L116.0 489.7L117.0 489.4L118.0 489.2L119.0 489.0L120.0 488.8L121.0 488.6L122.0 488.4L123.0 488.2L124.0 488.1L125.0 488.0L126.0 487.9L127.0 487.8L128.0 487.7L129.0 487.7L130.0 487.7L131.0 487.7" stroke="#1a1a1a" stroke-width="5.2"/><path d="M51.0 495.3L52.0 495.2L53.0 495.2L54.0 495.1L55.0 495.0L56.0 494.8L57.0 494.7L58.0 494.5L59.0 494.3L60.0 494.1L61.0 493.8L62.0 493.6L63.0 493.3L64.0 493.0L65.0 492.7L66.0 492.4L67.0 492.1L68.0 491.7L69.0 491.4L70.0 491.1L71.0 490.7L72.0 490.4L73.0 490.0L74.0 489.7L75.0 489.3L76.0 489.0L77.0 488.7L78.0 488.4L79.0 488.1L80.0 487.8L81.0 487.6L82.0 487.4L83.0 487.1L84.0 487.0L85.0 486.8L86.0 486.7L87.0 486.6L88.0 486.5L89.0 486.5L90.0 486.5L91.0 486.5M131.0 495.3L132.0 495.3L133.0 495.2L134.0 495.1L135.0 495.0L136.0 494.9L137.0 494.7L138.0 494.6L139.0 494.4L140.0 494.2L141.0 494.0L142.0 493.7L143.0 493.5L144.0 493.2L145.0 493.0L146.0 492.7L147.0 492.4L148.0 492.1L149.0 491.8L150.0 491.5M30.0 491.5L31.0 491.2L32.0 490.9L33.0 490.6L34.0 490.3L35.0 490.0L36.0 489.8L37.0 489.5L38.0 489.3L39.0 489.0L40.0 488.8L41.0 488.6L42.0 488.4L43.0 488.3L44.0 488.1L45.0 488.0L46.0 487.9L47.0 487.8L48.0 487.7L49.0 487.7L50.0 487.7L51.0 487.7M91.0 494.1L92.0 494.1L93.0 494.1L94.0 494.0L95.0 494.0L96.0 493.9L97.0 493.8L98.0 493.7L99.0 493.6L100.0 493.4L101.0 493.3L102.0 493.1L103.0 492.9L104.0 492.7L105.0 492.5L106.0 492.2L107.0 492.0L108.0 491.7L109.0 491.5L110.0 491.2L111.0 491.0L112.0 490.7L113.0 490.4L114.0 490.2L115.0 489.9L116.0 489.7L117.0 489.4L118.0 489.2L119.0 489.0L120.0 488.8L121.0 488.6L122.0 488.4L123.0 488.2L124.0 488.1L125.0 488.0L126.0 487.9L127.0 487.8L128.0 487.7L129.0 487.7L130.0 487.7L131.0 487.7" stroke="#f8f8f8" stroke-width="3.2"/><path d="M30.0 491.5L31.0 491.8L32.0 492.1L33.0 492.4L34.0 492.7L35.0 493.0L36.0 493.2L37.0 493.5L38.0 493.7L39.0 494.0L40.0 494.2L41.0 494.4L42.0 494.6L43.0 494.7L44.0 494.9L45.0 495.0L46.0 495.1L47.0 495.2L48.0 495.2L49.0 495.3L50.0 495.3L51.0 495.3M91.0 486.5L92.0 486.6L93.0 486.7L94.0 486.8L95.0 487.0L96.0 487.1L97.0 487.3L98.0 487.5L99.0 487.8L100.0 488.0L101.0 488.3L102.0 488.6L103.0 488.9L104.0 489.2L105.0 489.6L106.0 489.9L107.0 490.2L108.0 490.6L109.0 490.9L110.0 491.2L111.0 491.6L112.0 491.9L113.0 492.2L114.0 492.5L115.0 492.8L116.0 493.1L117.0 493.4L118.0 493.7L119.0 493.9L120.0 494.1L121.0 494.3L122.0 494.5L123.0 494.7L124.0 494.9L125.0 495.0L126.0 495.1L127.0 495.2L128.0 495.2L129.0 495.3L130.0 495.3L131.0 495.3M51.0 487.7L52.0 487.7L53.0 487.8L54.0 487.9L55.0 487.9L56.0 488.1L57.0 488.2L58.0 488.4L59.0 488.5L60.0 488.7L61.0 488.9L62.0 489.1L63.0 489.3L64.0 489.6L65.0 489.8L66.0 490.1L67.0 490.3L68.0 490.6L69.0 490.8L70.0 491.1L71.0 491.3L72.0 491.5L73.0 491.8L74.0 492.0L75.0 492.2L76.0 492.5L77.0 492.7L78.0 492.9L79.0 493.0L80.0 493.2L81.0 493.4L82.0 493.5L83.0 493.6L84.0 493.7L85.0 493.8L86.0 493.9L87.0 494.0L88.0 494.1L89.0 494.1L90.0 494.1L91.0 494.1M131.0 487.7L132.0 487.7L133.0 487.8L134.0 487.9L135.0 488.0L136.0 488.1L137.0 488.3L138.0 488.4L139.0 488.6L140.0 488.8L141.0 489.0L142.0 489.3L143.0 489.5L144.0 489.8L145.0 490.0L146.0 490.3L147.0 490.6L148.0 490.9L149.0 491.2L150.0 491.5" stroke="#1a1a1a" stroke-width="5.2"/><path d="M30.0 491.5L31.0 491.8L32.0 492.1L33.0 492.4L34.0 492.7L35.0 493.0L36.0 493.2L37.0 493.5L38.0 493.7L39.0 494.0L40.0 494.2L41.0 494.4L42.0 494.6L43.0 494.7L44.0 494.9L45.0 495.0L46.0 495.1L47.0 495.2L48.0 495.2L49.0 495.3L50.0 495.3L51.0 495.3M91.0 486.5L92.0 486.6L93.0 486.7L94.0 486.8L95.0 487.0L96.0 487.1L97.0 487.3L98.0 487.5L99.0 487.8L100.0 488.0L101.0 488.3L102.0 488.6L103.0 488.9L104.0 489.2L105.0 489.6L106.0 489.9L107.0 490.2L108.0 490.6L109.0 490.9L110.0 491.2L111.0 491.6L112.0 491.9L113.0 492.2L114.0 492.5L115.0 492.8L116.0 493.1L117.0 493.4L118.0 493.7L119.0 493.9L120.0 494.1L121.0 494.3L122.0 494.5L123.0 494.7L124.0 494.9L125.0 495.0L126.0 495.1L127.0 495.2L128.0 495.2L129.0 495.3L130.0 495.3L131.0 495.3M51.0 487.7L52.0 487.7L53.0 487.8L54.0 487.9L55.0 487.9L56.0 488.1L57.0 488.2L58.0 488.4L59.0 488.5L60.0 488.7L61.0 488.9L62.0 489.1L63.0 489.3L64.0 489.6L65.0 489.8L66.0 490.1L67.0 490.3L68.0 490.6L69.0 490.8L70.0 491.1L71.0 491.3L72.0 491.5L73.0 491.8L74.0 492.0L75.0 492.2L76.0 492.5L77.0 492.7L78.0 492.9L79.0 493.0L80.0 493.2L81.0 493.4L82.0 493.5L83.0 493.6L84.0 493.7L85.0 493.8L86.0 493.9L87.0 494.0L88.0 494.1L89.0 494.1L90.0 494.1L91.0 494.1M131.0 487.7L132.0 487.7L133.0 487.8L134.0 487.9L135.0 488.0L136.0 488.1L137.0 488.3L138.0 488.4L139.0 488.6L140.0 488.8L141.0 489.0L142.0 489.3L143.0 489.5L144.0 489.8L145.0 490.0L146.0 490.3L147.0 490.6L148.0 490.9L149.0 491.2L150.0 491.5" stroke="#f8f8f8" stroke-width="3.2"/></g>
<path d="M34 487 C45 489 60 488.5 75 486.5 C80 484.5 85 483.5 95 484 C115 485 130 486.5 145.4 488 L139.8 496.8 C120 497 100 495.5 85 495 C70 495.5 55 498 42 497.7 Z" fill="none" stroke="#1a1a1a" stroke-width="1"/>
<g stroke="#1a1a1a" stroke-width="0.8" fill="#fff">
<rect x="84.3" y="431.1" width="10" height="51.2"/>
<path d="M84 424.3V418.5Q84 413 89.1 413Q94.2 413 94.2 418.5V424.3Z" stroke-width="1.2" stroke="#333"/>
<rect x="82.1" y="424.3" width="13.6" height="6.8"/>
</g>
<path d="M73.9 429V478" stroke="#111" stroke-width="1.8"/><path d="M73.9 424.6L70.6 430.2H77.2Z M73.9 482.3L70.6 476.7H77.2Z" fill="#111"/>
<text x="48.3" y="464.5" class="sans" font-size="7.9" font-weight="bold" fill="#111" textLength="23" lengthAdjust="spacingAndGlyphs">30mm</text>
<path d="M85.5 408.8H93.5" stroke="#111" stroke-width="1.9"/><path d="M82.8 408.8L86.6 406V411.6Z M96 408.8L92.2 406V411.6Z" fill="#111"/>
<text x="81.6" y="403.3" class="sans" font-size="8" fill="#111" textLength="16.8" lengthAdjust="spacingAndGlyphs">5mm</text>
<path d="M100.2 415V422" stroke="#111" stroke-width="1.9"/><path d="M100.2 412.2L97.4 416H103Z M100.2 425L97.4 421.2H103Z" fill="#111"/>
<text x="104.5" y="420.3" class="sans" font-size="8" fill="#111" textLength="16" lengthAdjust="spacingAndGlyphs">5mm</text>
<text x="73.5" y="569.9" class="sans" font-size="13.8" fill="#1a1a1a" textLength="551" lengthAdjust="spacingAndGlyphs">*Dimensiunile produsului sunt aproximative și variază din cauza îndoiturilor din cablu.</text>
</svg></body></html>
